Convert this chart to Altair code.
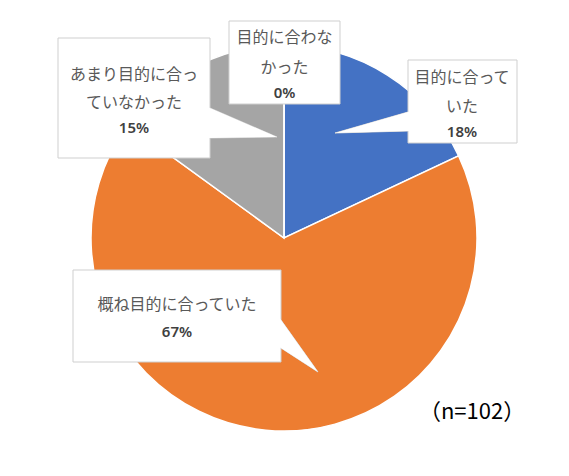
import altair as alt
import pandas as pd

# ---- data ----
categories = ["目的に合っていた", "概ね目的に合っていた", "あまり目的に合っていなかった", "目的に合わなかった"]
percents = [18, 67, 15, 0]
colors = ["#4472C4", "#ED7D31", "#A5A5A5", "#FFC000"]
name_lines = [["目的に合って", "いた"], ["概ね目的に合っていた"], ["あまり目的に合っ", "ていなかった"], ["目的に合わな", "かった"]]
note_text = "（n=102）"

# ---- layout (page pixel coordinates) ----
M = 8
W, H = 553, 460
center = (284, 238)
radius = 193
# callout boxes: x1, x2, y1, y2
boxes = [(408, 517, 60, 143), (73, 281, 270, 362), (58, 210, 38, 158), (229, 340, 21, 104)]
# text centre x, name line y's, percent y
text_cx = [462, 177, 134, 284.5]
name_ys = [[78, 107], [305], [75, 103], [38, 68]]
pct_ys = [132, 332, 128, 93]
# pointers: base x, base y top, base y bottom, tip x, tip y (None = no pointer)
pointers = [(408, 112, 131, 335, 133), (281, 320, 348, 318, 372), (210, 108, 138, 277, 137), None]
note_pos = (472, 412)

X_SCALE = alt.Scale(domain=[M, M + W], nice=False, zero=False)
Y_SCALE = alt.Scale(domain=[M, M + H], nice=False, zero=False, reverse=True)

pie_df = pd.DataFrame({"cat": categories, "pct": percents, "idx": list(range(len(categories)))})

box_df = pd.DataFrame([
    {"cat": c, "x1": b[0], "x2": b[1], "y1": b[2], "y2": b[3]} for c, b in zip(categories, boxes)
])

def pointer_rows(ext):
    rows = []
    for c, p in zip(categories, pointers):
        if p is None:
            continue
        xb, yt, yb, xt, ytip = p
        s = 1 if xb > xt else -1
        xb2 = xb + s * ext
        f = (xb2 - xt) / (xb - xt)
        rows.append({"cat": c, "x": xb2, "y": ytip + (yt - ytip) * f, "y2": ytip + (yb - ytip) * f})
        rows.append({"cat": c, "x": xt, "y": ytip, "y2": ytip})
    return pd.DataFrame(rows)

ptr_df = pointer_rows(0)
ptr_fill_df = pointer_rows(2.5)

name_rows = []
for c, lines, ys, cx in zip(categories, name_lines, name_ys, text_cx):
    for ln, yy in zip(lines, ys):
        name_rows.append({"cat": c, "text": ln, "x": cx, "y": yy})
name_df = pd.DataFrame(name_rows)
pct_df = pd.DataFrame({"cat": categories, "text": [f"{p}%" for p in percents], "x": text_cx, "y": pct_ys})
note_df = pd.DataFrame({"text": [note_text], "x": [note_pos[0]], "y": [note_pos[1]]})

BORDER = "#CFCFCF"

pie = alt.Chart(pie_df).mark_arc(outerRadius=radius, stroke="white", strokeWidth=1.5).encode(
    theta=alt.Theta("pct:Q", stack=True),
    order=alt.Order("idx:Q"),
    color=alt.Color("cat:N", scale=alt.Scale(domain=categories, range=colors), legend=None),
    x=alt.value(center[0] - M),
    y=alt.value(center[1] - M),
)

ptr_stroke = alt.Chart(ptr_df).mark_area(fill="white", stroke=BORDER, strokeWidth=1, interpolate="linear").encode(
    x=alt.X("x:Q", scale=X_SCALE, axis=None),
    y=alt.Y("y:Q", scale=Y_SCALE, axis=None, stack=None),
    y2="y2:Q",
    detail="cat:N",
)

box = alt.Chart(box_df).mark_rect(fill="white", stroke=BORDER, strokeWidth=1).encode(
    x=alt.X("x1:Q", scale=X_SCALE, axis=None),
    x2="x2:Q",
    y=alt.Y("y1:Q", scale=Y_SCALE, axis=None),
    y2="y2:Q",
)

ptr_fill = alt.Chart(ptr_fill_df).mark_area(fill="white", strokeWidth=0, interpolate="linear").encode(
    x=alt.X("x:Q", scale=X_SCALE, axis=None),
    y=alt.Y("y:Q", scale=Y_SCALE, axis=None, stack=None),
    y2="y2:Q",
    detail="cat:N",
)

names = alt.Chart(name_df).mark_text(
    font="Noto Sans CJK JP", fontSize=16, color="#595959", align="center", baseline="middle"
).encode(
    x=alt.X("x:Q", scale=X_SCALE, axis=None),
    y=alt.Y("y:Q", scale=Y_SCALE, axis=None),
    text="text:N",
)

pcts = alt.Chart(pct_df).mark_text(
    font="Noto Sans", fontSize=15, fontWeight=600, color="#404040", align="center", baseline="middle"
).encode(
    x=alt.X("x:Q", scale=X_SCALE, axis=None),
    y=alt.Y("y:Q", scale=Y_SCALE, axis=None),
    text="text:N",
)

note = alt.Chart(note_df).mark_text(
    font="Noto Sans CJK JP", fontSize=22, color="#000000", align="center", baseline="middle"
).encode(
    x=alt.X("x:Q", scale=X_SCALE, axis=None),
    y=alt.Y("y:Q", scale=Y_SCALE, axis=None),
    text="text:N",
)

chart = alt.layer(pie, ptr_stroke, box, ptr_fill, names, pcts, note).properties(
    width=W, height=H, padding=0, background="white"
).configure_view(stroke=None)

chart.save("out.html", embed_options={"renderer": "svg", "actions": False})
